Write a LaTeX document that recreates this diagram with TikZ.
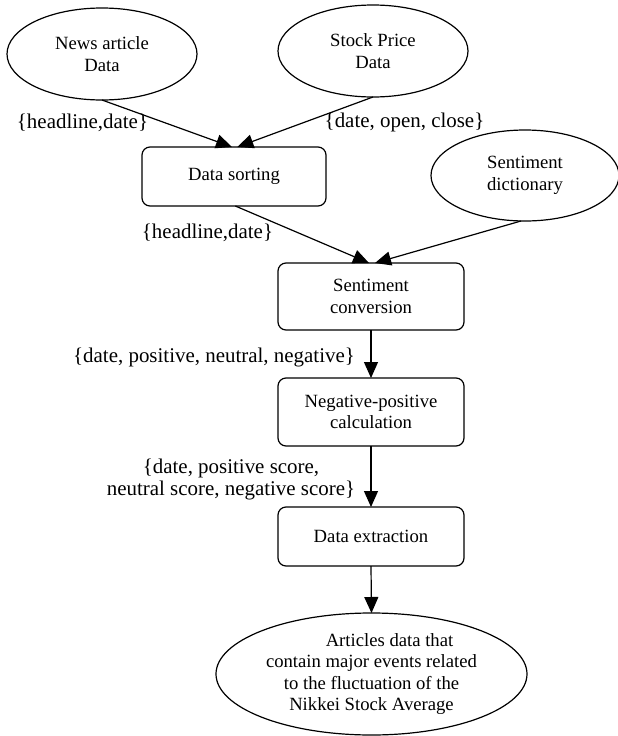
\documentclass[tikz,border=0pt]{standalone}
\usepackage{fontspec}
\setmainfont{Liberation Serif}
\usetikzlibrary{shapes.geometric,arrows.meta}
\begin{document}
\begin{tikzpicture}[x=0.75pt,y=-0.75pt,
  every node/.style={inner sep=0pt,outer sep=0pt},
  ntext/.style={font=\fontsize{14pt}{16.2pt}\selectfont,align=center},
  ell/.style={ellipse,draw,line width=0.9pt,ntext},
  procbox/.style={rectangle,rounded corners=6pt,draw,line width=0.9pt,ntext,minimum width=139.5pt},
  lbl/.style={font=\fontsize{15.7pt}{16.5pt}\selectfont,align=center},
  arr/.style={line width=0.9pt,-{Triangle[length=12pt,width=10.5pt]}}
]
\useasboundingbox (0,0) rectangle (618,736);
\node[ell,minimum width=142.5pt,minimum height=69pt] (news) at (102,54) {News article\\Data};
\node[ell,minimum width=142.5pt,minimum height=69pt] (stock) at (373,51) {Stock Price\\Data};
\node[procbox,minimum width=138pt,minimum height=44.25pt] (ds) at (234,176.5) {Data sorting};
\node[ell,minimum width=141pt,minimum height=68.25pt] (dict) at (525,175.5) {Sentiment\\dictionary};
\node[procbox,minimum height=50.25pt] (sc) at (371,296.5) {Sentiment\\conversion};
\node[procbox,minimum height=51pt] (np) at (371,412) {Negative-positive\\calculation};
\node[procbox,minimum height=44.25pt] (de) at (371,536.5) {Data extraction};
\node[ell,minimum width=233.25pt,minimum height=91.5pt] (fin) at (371.5,674) {\hspace*{27pt}Articles data that\\contain major events related\\to the fluctuation of the\\Nikkei Stock Average};

\draw[arr] (news.south) -- ([xshift=-1.5pt]ds.north);
\draw[arr] (stock.south) -- ([xshift=2.5pt]ds.north);
\draw[arr] ([xshift=1pt]ds.south) -- ([xshift=-1.5pt]sc.north);
\draw[arr] ([xshift=-3pt]dict.south) -- ([xshift=3pt]sc.north);
\draw[arr] (sc.south) -- (np.north);
\draw[arr] (np.south) -- (de.north);
\draw[arr] (de.south) -- (fin.north);

\node[lbl] (l1) at (82.5,123) {\{headline,date\}};
\node[lbl] (l2) at (404.5,122) {\{date, open, close\}};
\node[lbl] (l3) at (207.5,233) {\{headline,date\}};
\node[lbl] (l4) at (214,357) {\{date, positive, neutral, negative\}};
\node[lbl] (l5) at (231,479) {\{date, positive score,\\neutral score, negative score\}};
\end{tikzpicture}
\end{document}
